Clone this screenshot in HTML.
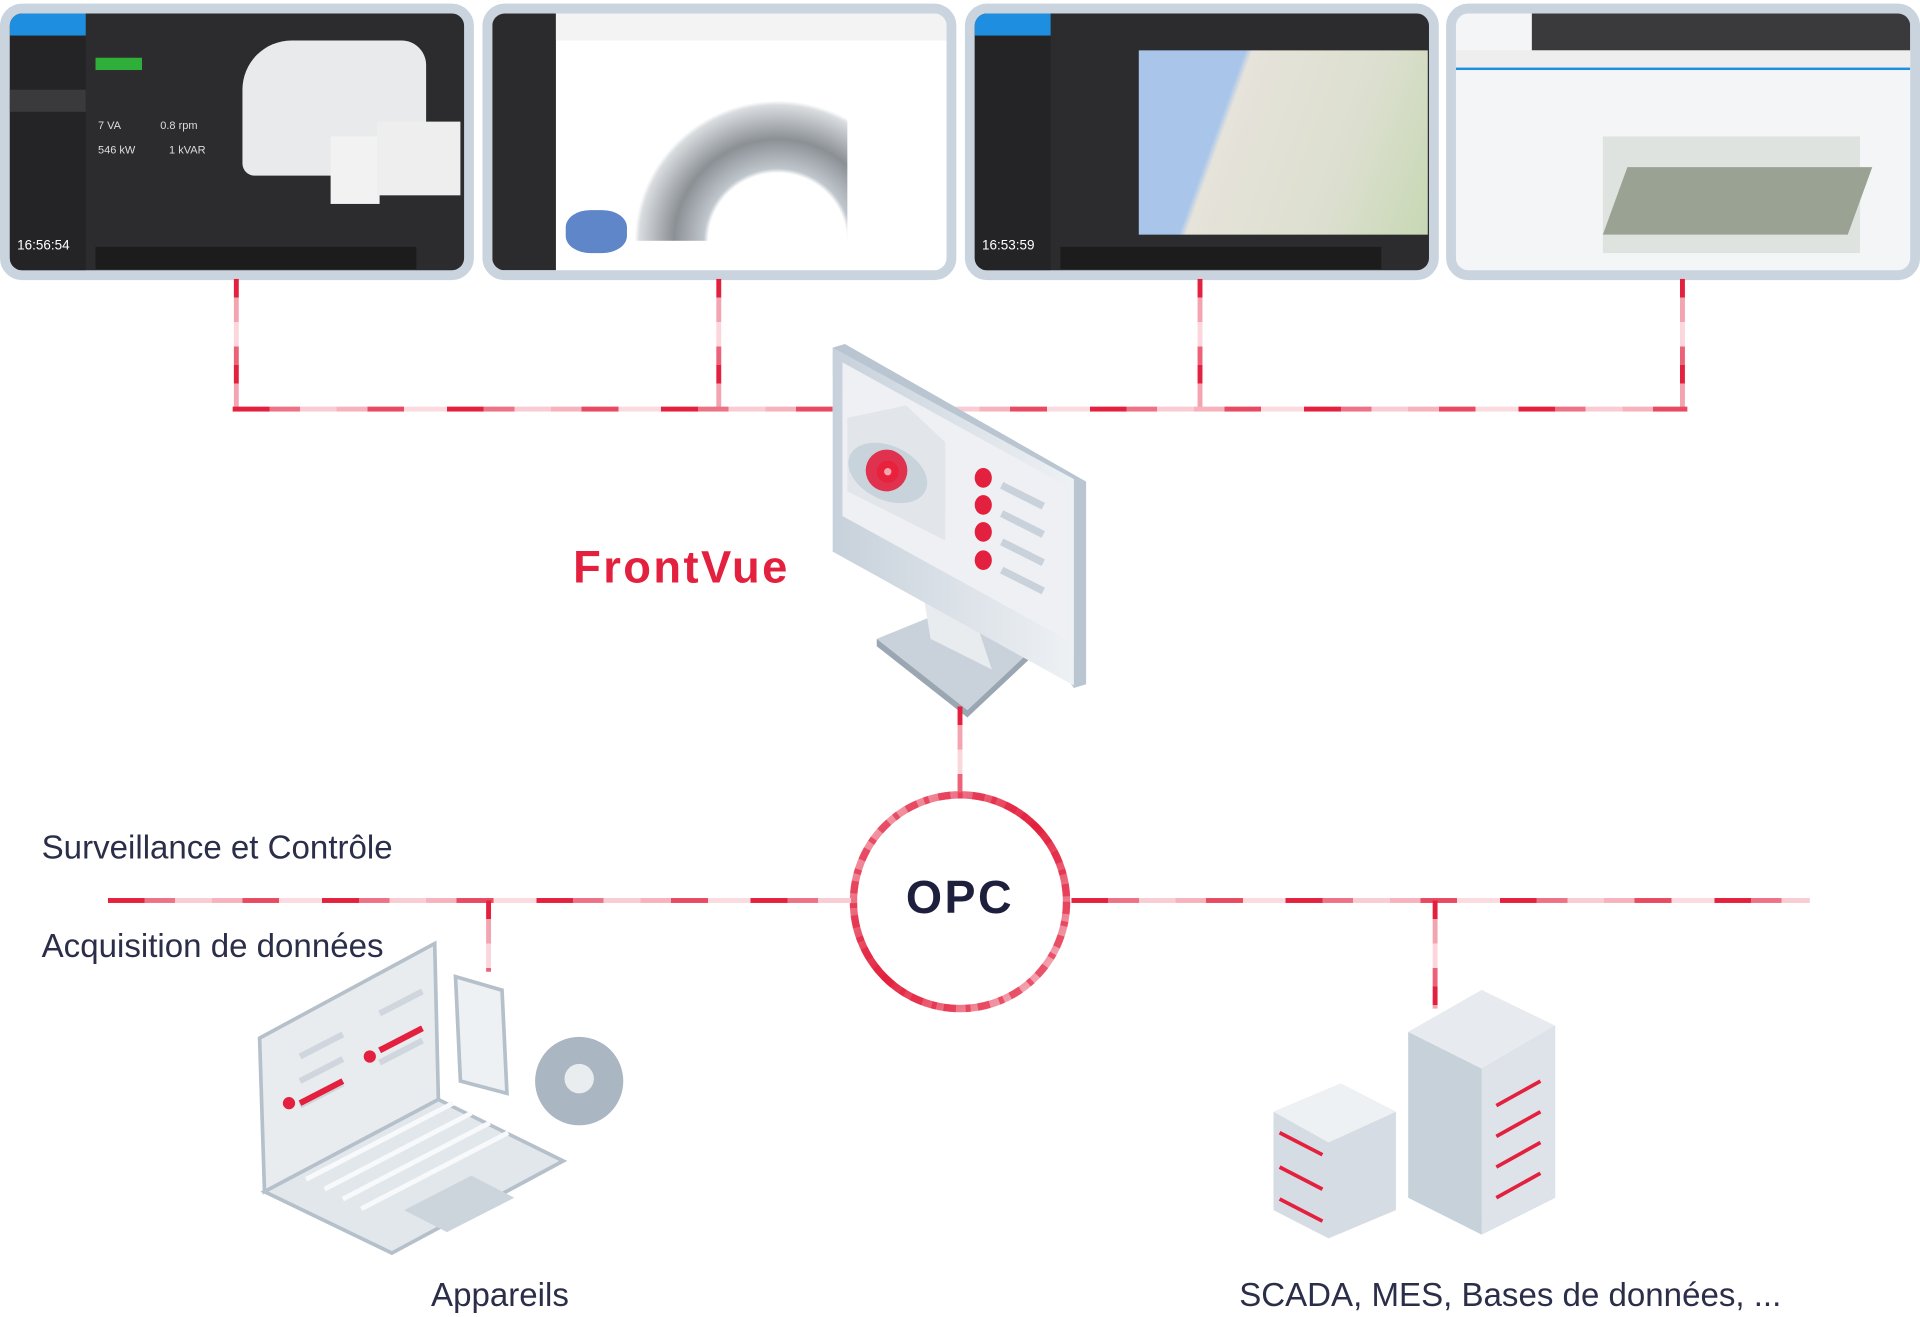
<!DOCTYPE html>
<html><head><meta charset="utf-8"><style>
html,body{margin:0;padding:0;background:#fff;overflow:hidden}
#w{position:absolute;left:0;top:0;width:1568px;height:1072px;transform:scale(1.2245,1.2285);transform-origin:0 0;font-family:"Liberation Sans",sans-serif}
.p{position:absolute;top:3px;width:371px;height:209px;border:8px solid #c9d4df;border-radius:18px;overflow:hidden;background:#2c2c2e}
.h{position:absolute;height:4px;background:repeating-linear-gradient(90deg,#e3203d 0 30px,#ee7286 30px 55px,#f9ccd3 55px 85px,#f6b3bd 85px 110px,#e84a62 110px 140px,#fbdbe0 140px 175px)}
.v{position:absolute;width:4px;background:repeating-linear-gradient(180deg,#e3203d 0 15px,#f4a3b0 15px 35px,#fbd6dc 35px 55px,#ec6278 55px 70px)}
.t{position:absolute;color:#2a2e48;font-size:27px;white-space:nowrap}
</style></head><body><div id="w">
<div class="p" style="left:0">
 <div style="position:absolute;left:0;top:0;width:62px;height:18px;background:#1e8fe0"></div>
 <div style="position:absolute;left:0;top:18px;width:62px;height:191px;background:#242426"></div>
 <div style="position:absolute;left:0;top:62px;width:62px;height:18px;background:#3a3a3c"></div>
 <div style="position:absolute;left:70px;top:36px;width:38px;height:10px;background:#2fae3a"></div>
 <div style="position:absolute;left:190px;top:22px;width:150px;height:110px;background:#e8eaec;border-radius:40px 20px 10px 10px"></div>
 <div style="position:absolute;left:262px;top:100px;width:40px;height:55px;background:#f2f2f2"></div>
 <div style="position:absolute;left:300px;top:88px;width:68px;height:60px;background:#eee"></div>
 <div style="position:absolute;left:6px;top:183px;color:#fff;font-size:11px">16:56:54</div>
 <div style="position:absolute;left:72px;top:86px;color:#ddd;font-size:9px">7 VA &nbsp;&nbsp;&nbsp;&nbsp;&nbsp;&nbsp;&nbsp;&nbsp;&nbsp;&nbsp;&nbsp;&nbsp;0.8 rpm<br><br>546 kW &nbsp;&nbsp;&nbsp;&nbsp;&nbsp;&nbsp;&nbsp;&nbsp;&nbsp;&nbsp;1 kVAR</div>
 <div style="position:absolute;left:70px;top:190px;width:262px;height:18px;background:#1c1c1c"></div>
</div>
<div class="p" style="left:394px;background:#fff">
 <div style="position:absolute;left:0;top:0;width:52px;height:209px;background:#2b2b2d"></div>
 <div style="position:absolute;left:52px;top:0;width:319px;height:22px;background:#f3f3f3"></div>
 <div style="position:absolute;left:100px;top:55px;width:190px;height:130px;background:radial-gradient(ellipse at 70% 100%,#fff 30%,#bfc6cc 32%,#8b9095 45%,#d8dcdf 60%,#fff 62%)"></div>
 <div style="position:absolute;left:60px;top:160px;width:50px;height:35px;background:#5f86c8;border-radius:40%"></div>
</div>
<div class="p" style="left:788px">
 <div style="position:absolute;left:0;top:0;width:62px;height:18px;background:#1e8fe0"></div>
 <div style="position:absolute;left:0;top:18px;width:62px;height:191px;background:#242426"></div>
 <div style="position:absolute;left:134px;top:30px;width:236px;height:150px;background:linear-gradient(110deg,#a9c6ea 0 30%,#e6e3da 32%,#dcdfcf 70%,#c7d8b4)"></div>
 <div style="position:absolute;left:6px;top:183px;color:#fff;font-size:11px">16:53:59</div>
 <div style="position:absolute;left:70px;top:190px;width:262px;height:18px;background:#1c1c1c"></div>
</div>
<div class="p" style="left:1181px;background:#f4f5f6">
 <div style="position:absolute;left:62px;top:0;width:309px;height:30px;background:#3a3a3c"></div>
 <div style="position:absolute;left:0;top:30px;width:371px;height:14px;background:#eee;border-bottom:2px solid #1e8fe0"></div>
 <div style="position:absolute;left:120px;top:100px;width:210px;height:95px;background:#dfe3e0"></div>
 <div style="position:absolute;left:130px;top:125px;width:200px;height:55px;background:#9aa393;transform:skewX(-20deg)"></div>
</div>
<div class="v" style="left:191px;top:227px;height:108px"></div>
<div class="v" style="left:585px;top:227px;height:108px"></div>
<div class="v" style="left:978px;top:227px;height:108px"></div>
<div class="v" style="left:1372px;top:227px;height:108px"></div>
<div class="h" style="left:190px;top:331px;width:1188px"></div>
<svg style="position:absolute;left:0;top:0" width="1568" height="1072">
 <defs><linearGradient id="g1" x1="0" x2="1"><stop offset="0" stop-color="#c7d1db"/><stop offset="1" stop-color="#eef1f4"/></linearGradient>
 <linearGradient id="g3" x1="0" y1="0" x2="1" y2="1"><stop offset="0" stop-color="#f7c0c9"/><stop offset=".5" stop-color="#e3203d"/><stop offset="1" stop-color="#f9d3d9"/></linearGradient></defs>
 <polygon points="716,520 790,490 852,520 790,578" fill="#c9d2db"/>
 <polygon points="716,520 790,578 852,520 852,526 790,584 716,526" fill="#9aa7b3"/>
 <polygon points="755,490 800,515 810,545 760,520" fill="#e8ecef"/>
 <polygon points="680,283 690,280 887,392 887,557 877,560" fill="#b9c5d0"/>
 <polygon points="680,283 877,390 877,558 680,449" fill="url(#g1)"/>
 <polygon points="688,295 870,395 870,520 688,420" fill="#eff0f4"/>
 <polygon points="692,340 740,330 772,360 772,440 692,400" fill="#e2e6ea"/>
 <ellipse cx="725" cy="385" rx="34" ry="22" fill="#c9d3dc" transform="rotate(25 725 385)"/>
 <circle cx="724" cy="383" r="17" fill="#e0324e"/><circle cx="725" cy="384" r="9" fill="#e8213d"/><circle cx="725" cy="384" r="3" fill="#f3a5b0"/>
 <g fill="#e3203d"><ellipse cx="803" cy="389" rx="7" ry="8"/><ellipse cx="803" cy="411" rx="7" ry="8"/><ellipse cx="803" cy="433" rx="7" ry="8"/><ellipse cx="803" cy="456" rx="7" ry="8"/></g>
 <g stroke="#c9d2db" stroke-width="6"><line x1="818" y1="395" x2="852" y2="412"/><line x1="818" y1="418" x2="852" y2="435"/><line x1="818" y1="441" x2="852" y2="458"/><line x1="818" y1="464" x2="852" y2="481"/></g>
 <circle cx="784" cy="734" r="87" fill="#fff" stroke="url(#g3)" stroke-width="6"/>
 <circle cx="784" cy="734" r="87" fill="none" stroke="#e3203d" stroke-width="6" stroke-dasharray="10 6 4 8" opacity=".6"/>
 <polygon points="212,845 355,768 358,895 216,970" fill="#e9ecef" stroke="#b5c0ca" stroke-width="3"/>
 <polygon points="372,795 410,806 414,890 376,880" fill="#eef1f3" stroke="#b5c0ca" stroke-width="3"/>
 <polygon points="216,970 358,895 460,945 320,1020" fill="#e2e7ec" stroke="#b5c0ca" stroke-width="3"/>
 <g stroke="#f7f9fa" stroke-width="4"><line x1="250" y1="960" x2="370" y2="898"/><line x1="265" y1="968" x2="385" y2="906"/><line x1="280" y1="976" x2="400" y2="914"/><line x1="295" y1="984" x2="415" y2="922"/></g>
 <polygon points="330,985 385,957 420,975 365,1003" fill="#cdd5dc"/>
 <g stroke="#cfd6dd" stroke-width="5"><line x1="245" y1="860" x2="280" y2="842"/><line x1="245" y1="880" x2="280" y2="862"/><line x1="245" y1="900" x2="280" y2="882"/><line x1="310" y1="825" x2="345" y2="807"/><line x1="310" y1="865" x2="345" y2="847"/></g>
 <g stroke="#e3203d" stroke-width="5"><line x1="245" y1="898" x2="280" y2="880"/><line x1="310" y1="855" x2="345" y2="837"/></g>
 <g fill="#e3203d"><circle cx="236" cy="898" r="5"/><circle cx="302" cy="860" r="5"/></g>
 <g fill="#aab6c2"><circle cx="473" cy="880" r="36"/></g><circle cx="473" cy="878" r="12" fill="#e9edf0"/>
 <polygon points="1150,840 1210,806 1270,835 1270,975 1210,1005 1150,975" fill="#c7d1da"/>
 <polygon points="1150,840 1210,806 1270,835 1210,870" fill="#e7ebef"/>
 <polygon points="1210,870 1270,835 1270,975 1210,1005" fill="#dde3e8"/>
 <g stroke="#e3203d" stroke-width="3"><line x1="1222" y1="900" x2="1258" y2="880"/><line x1="1222" y1="925" x2="1258" y2="905"/><line x1="1222" y1="950" x2="1258" y2="930"/><line x1="1222" y1="975" x2="1258" y2="955"/></g>
 <polygon points="1040,905 1095,882 1140,905 1140,985 1085,1008 1040,985" fill="#d5dce3"/>
 <polygon points="1040,905 1095,882 1140,905 1085,930" fill="#eef1f4"/>
 <g stroke="#e3203d" stroke-width="3"><line x1="1045" y1="922" x2="1080" y2="940"/><line x1="1045" y1="950" x2="1080" y2="968"/><line x1="1045" y1="976" x2="1080" y2="994"/></g>
</svg>
<div class="t" style="left:468px;top:441px;color:#e3203d;font-weight:bold;font-size:37px;letter-spacing:2px">FrontVue</div>
<div class="v" style="left:782px;top:575px;height:70px"></div>
<div style="position:absolute;left:697px;top:710px;width:174px;text-align:center;font-weight:bold;font-size:38px;color:#1e1f3d;letter-spacing:2px">OPC</div>
<div class="h" style="left:88px;top:731px;width:607px"></div>
<div class="h" style="left:875px;top:731px;width:603px"></div>
<div class="v" style="left:397px;top:733px;height:58px"></div>
<div class="v" style="left:1170px;top:733px;height:88px"></div>
<div class="t" style="left:34px;top:675px">Surveillance et Contrôle</div>
<div class="t" style="left:34px;top:755px">Acquisition de données</div>
<div class="t" style="left:352px;top:1039px">Appareils</div>
<div class="t" style="left:1012px;top:1039px">SCADA, MES, Bases de données, ...</div>
</div></body></html>
